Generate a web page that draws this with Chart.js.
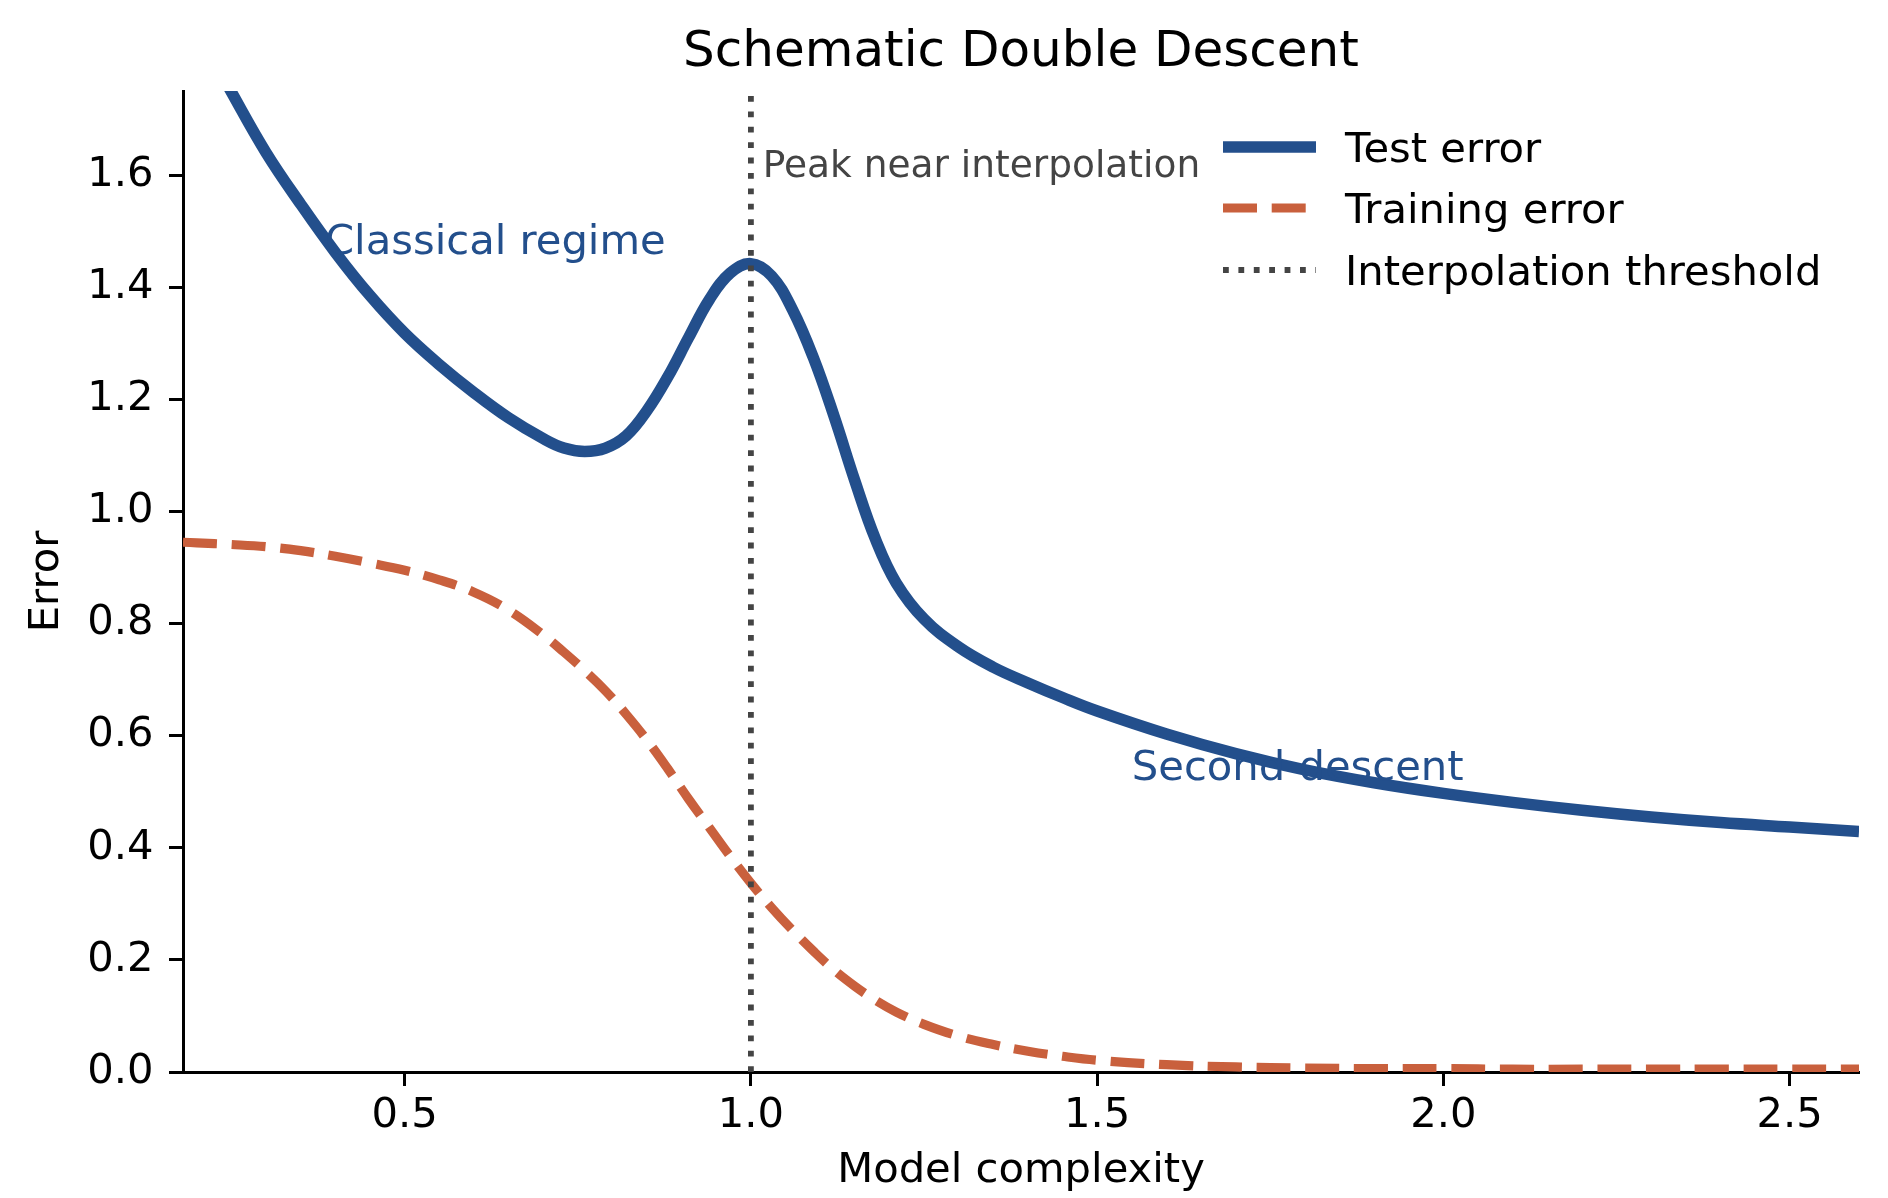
<!DOCTYPE html>
<html>
<head>
<meta charset="utf-8">
<title>Schematic Double Descent</title>
<script src="https://cdn.jsdelivr.net/npm/chart.js@4/dist/chart.umd.min.js"></script>
<style>
  html, body { margin: 0; padding: 0; background: #fff; }
  canvas { display: block; }
</style>
</head>
<body>
<canvas id="doubleDescent" width="1888" height="1198"></canvas>
<script>
// values
const complexity = [0.18, 0.20, 0.25, 0.30, 0.35, 0.40, 0.45, 0.50, 0.55, 0.60, 0.65, 0.70, 0.73, 0.76, 0.79,
  0.82, 0.85, 0.88, 0.91, 0.94, 0.97, 1.00, 1.03, 1.06, 1.09, 1.12, 1.15, 1.18, 1.21, 1.25, 1.30, 1.35,
  1.40, 1.45, 1.50, 1.60, 1.70, 1.80, 1.90, 2.00, 2.10, 2.20, 2.30, 2.40, 2.50, 2.60];
const testError = [1.92, 1.86, 1.748, 1.64, 1.548, 1.462, 1.385, 1.318, 1.262, 1.212, 1.167, 1.130, 1.113, 1.107, 1.113,
  1.135, 1.18, 1.24, 1.31, 1.378, 1.425, 1.442, 1.42, 1.36, 1.275, 1.17, 1.055, 0.95, 0.872, 0.808, 0.758, 0.722,
  0.694, 0.668, 0.644, 0.603, 0.568, 0.539, 0.516, 0.497, 0.481, 0.467, 0.455, 0.445, 0.437, 0.429];
const trainError = [0.945, 0.944, 0.941, 0.937, 0.930, 0.920, 0.908, 0.895, 0.878, 0.856, 0.824, 0.780, 0.749, 0.716, 0.680,
  0.638, 0.592, 0.541, 0.487, 0.436, 0.385, 0.337, 0.293, 0.253, 0.216, 0.182, 0.153, 0.128, 0.107, 0.085, 0.064, 0.049,
  0.037, 0.028, 0.021, 0.013, 0.009, 0.007, 0.006, 0.006, 0.005, 0.005, 0.005, 0.005, 0.005, 0.005];
const thresholdX = 1.0;
const xTickValues = [0.5, 1.0, 1.5, 2.0, 2.5];
const yTickValues = [0.0, 0.2, 0.4, 0.6, 0.8, 1.0, 1.2, 1.4, 1.6];
const xRange = [0.18, 2.6];
const yRange = [0, 1.75];

const BLUE = "#234f8c";
const ORANGE = "#c9603d";
const GREY = "#444444";
const FONT = "DejaVu Sans";

const notes = [
  { text: "Classical regime", x: 0.385, y: 1.46, color: BLUE, size: 41.7 },
  { text: "Peak near interpolation", x: 1.017, y: 1.597, color: GREY, size: 37.5 },
  { text: "Second descent", x: 1.55, y: 0.521, color: BLUE, size: 41.7 },
];

const toPoints = (ys) => complexity.map((x, i) => ({ x: x, y: ys[i] }));

// title, inline legend and text notes
const extras = {
  id: "extras",
  afterDraw(chart) {
    const { ctx, chartArea, scales } = chart;
    ctx.save();
    ctx.fillStyle = "#000";
    ctx.font = `50px "${FONT}"`;
    ctx.textAlign = "center";
    ctx.textBaseline = "alphabetic";
    ctx.fillText("Schematic Double Descent", (chartArea.left + chartArea.right) / 2, 66);

    ctx.textAlign = "left";
    notes.forEach((n) => {
      ctx.fillStyle = n.color;
      ctx.font = `${n.size}px "${FONT}"`;
      ctx.fillText(n.text, scales.x.getPixelForValue(n.x), scales.y.getPixelForValue(n.y));
    });

    const rows = [147, 208, 270];
    chart.data.datasets.forEach((ds, i) => {
      const y = rows[i];
      ctx.strokeStyle = ds.borderColor;
      ctx.lineWidth = ds.borderWidth;
      ctx.lineCap = "butt";
      ctx.setLineDash(ds.borderDash || []);
      ctx.beginPath();
      ctx.moveTo(1223, y);
      ctx.lineTo(1316, y);
      ctx.stroke();
      ctx.setLineDash([]);
      ctx.fillStyle = "#000";
      ctx.font = `41.7px "${FONT}"`;
      ctx.fillText(ds.label, 1345, y + 14.5);
    });
    ctx.restore();
  },
};

const axisCommon = {
  type: "linear",
  bounds: "data",
  grid: { drawOnChartArea: false, drawTicks: true, tickLength: 14, tickWidth: 3, tickColor: "#000" },
  border: { display: true, color: "#000", width: 3 },
};

new Chart(document.getElementById("doubleDescent"), {
  type: "line",
  data: {
    datasets: [
      {
        label: "Test error",
        data: toPoints(testError),
        borderColor: BLUE,
        borderWidth: 11.5,
        tension: 0.4,
        order: 2,
      },
      {
        label: "Training error",
        data: toPoints(trainError),
        borderColor: ORANGE,
        borderWidth: 9.2,
        borderDash: [34, 14.7],
        tension: 0.4,
        order: 3,
      },
      {
        label: "Interpolation threshold",
        data: [{ x: thresholdX, y: yRange[0] }, { x: thresholdX, y: yRange[1] }],
        borderColor: GREY,
        borderWidth: 5.8,
        borderDash: [5.8, 9.6],
        tension: 0,
        order: 1,
      },
    ],
  },
  options: {
    responsive: false,
    animation: false,
    devicePixelRatio: 1,
    events: [],
    layout: { padding: { top: 91, right: 29, left: 0, bottom: 0 } },
    elements: {
      point: { radius: 0 },
      line: { borderCapStyle: "butt", borderJoinStyle: "round", fill: false },
    },
    datasets: { line: { clip: 0 } },
    plugins: { legend: { display: false }, title: { display: false }, tooltip: { enabled: false } },
    scales: {
      x: {
        ...axisCommon,
        min: xRange[0],
        max: xRange[1],
        afterBuildTicks: (axis) => { axis.ticks = xTickValues.map((v) => ({ value: v })); },
        afterFit: (axis) => { axis.height = 126; },
        ticks: {
          color: "#000",
          padding: 5,
          maxRotation: 0,
          font: { family: FONT, size: 41.7 },
          callback: (v) => Number(v).toFixed(1),
        },
        title: {
          display: true,
          text: "Model complexity",
          color: "#000",
          font: { family: FONT, size: 41.7 },
          padding: { top: 0, bottom: 1.4 },
        },
      },
      y: {
        ...axisCommon,
        min: yRange[0],
        max: yRange[1],
        afterBuildTicks: (axis) => { axis.ticks = yTickValues.map((v) => ({ value: v })); },
        afterFit: (axis) => { axis.width = 183; },
        ticks: {
          color: "#000",
          padding: 15.5,
          font: { family: FONT, size: 41.7 },
          callback: (v) => Number(v).toFixed(1),
        },
        title: {
          display: true,
          text: "Error",
          color: "#000",
          font: { family: FONT, size: 41.7 },
          padding: { top: 22.6, bottom: 0 },
        },
      },
    },
  },
  plugins: [extras],
});
</script>
</body>
</html>
